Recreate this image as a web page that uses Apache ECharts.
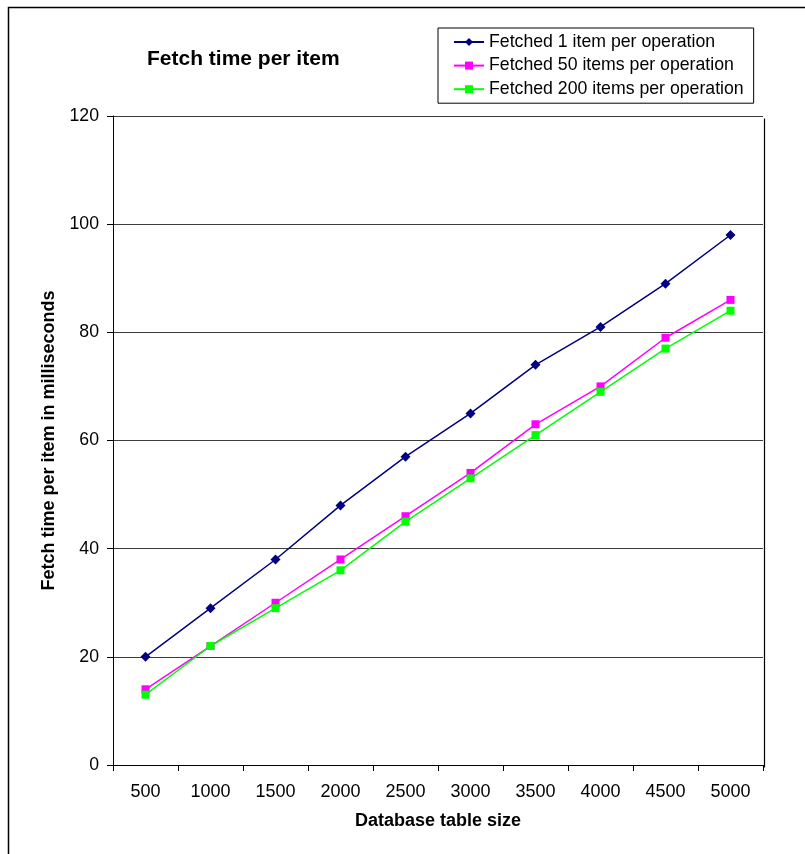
<!DOCTYPE html>
<html><head><meta charset="utf-8">
<script src="https://cdn.jsdelivr.net/npm/echarts@6/dist/echarts.min.js"></script>
<style>html,body{margin:0;padding:0;background:#fff}#c{width:805px;height:854px}</style>
</head><body><div id="c"></div>
<script>
const categories = ['500','1000','1500','2000','2500','3000','3500','4000','4500','5000'];
const fetched1 = [20, 29, 38, 48, 57, 65, 74, 81, 89, 98];
const fetched50 = [14, 22, 30, 38, 46, 54, 63, 70, 79, 86];
const fetched200 = [13, 22, 29, 36, 45, 53, 61, 69, 77, 84];
const seriesNames = ['Fetched 1 item per operation','Fetched 50 items per operation','Fetched 200 items per operation'];
const yTicks = [0, 20, 40, 60, 80, 100, 120];

const chart = echarts.init(document.getElementById('c'), null, {renderer:'canvas'});
const F = '"Liberation Sans", Arial, sans-serif';
function mk(name, data, color, symbol, size){
  return {name, type:'line', data, color, symbol, symbolSize:size,
    lineStyle:{color, width:1.5}, itemStyle:{color}, animation:false, z:3};
}
chart.setOption({
  animation:false,
  backgroundColor:'#fff',
  title:{text:'Fetch time per item', left:142, top:44,
    textStyle:{fontFamily:F, fontSize:21, fontWeight:'bold', color:'#000'}},
  legend:{orient:'vertical', left:438, top:28,
    padding:[5,10,5,15], itemGap:5.6, itemWidth:30, itemHeight:10,
    borderColor:'#000', borderWidth:1, backgroundColor:'#fff',
    textStyle:{fontFamily:F, fontSize:17.7, lineHeight:18, color:'#000'},
    data:seriesNames},
  grid:{left:113, top:116, right:42, bottom:89, containLabel:false},
  xAxis:{type:'category', data:categories, boundaryGap:true,
    name:'Database table size', nameLocation:'middle', nameGap:47,
    nameTextStyle:{fontFamily:F, fontSize:18, fontWeight:'bold', color:'#000'},
    axisLine:{lineStyle:{color:'#000', width:1}},
    axisTick:{show:true, alignWithLabel:false, length:6, lineStyle:{color:'#000'}},
    axisLabel:{fontFamily:F, fontSize:18, color:'#000', margin:18},
    splitLine:{show:false}},
  yAxis:{type:'value', min:0, max:120, interval:20,
    name:'Fetch time per item in milliseconds', nameLocation:'middle', nameGap:55,
    nameTextStyle:{fontFamily:F, fontSize:18, fontWeight:'bold', color:'#000'},
    axisLine:{show:true, lineStyle:{color:'#000', width:1}},
    axisTick:{show:true, length:6, lineStyle:{color:'#000'}},
    axisLabel:{fontFamily:F, fontSize:17.7, color:'#000', margin:14,
      formatter:v=>yTicks.includes(v)?String(v):''},
    splitLine:{show:true, lineStyle:{color:'#3c3c3c', width:1.2}}},
  series:[
    mk(seriesNames[0], fetched1, '#000080', 'diamond', 10),
    mk(seriesNames[1], fetched50, '#FF00FF', 'rect', 8),
    mk(seriesNames[2], fetched200, '#00FF00', 'rect', 8)
  ],
  graphic:[
    {type:'line', shape:{x1:0, y1:116, x2:0, y2:765}, left:762, top:116, style:{stroke:'#000', lineWidth:1.2}, z:5},
    {type:'rect', shape:{x:8.5, y:7.5, width:900, height:900}, style:{fill:null, stroke:'#000', lineWidth:1.5}, z:10}
  ]
});
</script></body></html>
